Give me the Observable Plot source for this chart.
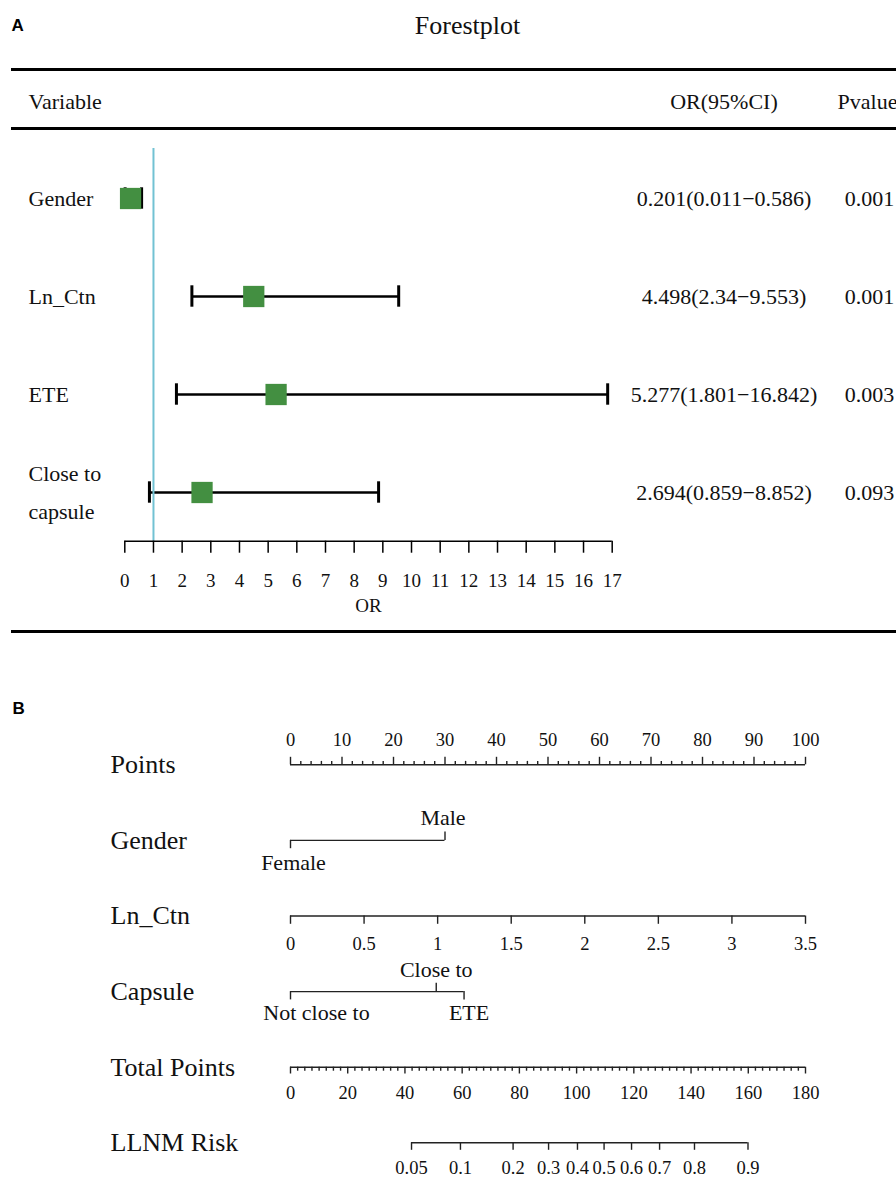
<!DOCTYPE html>
<html>
<head>
<meta charset="utf-8">
<script src="https://cdn.jsdelivr.net/npm/d3@7"></script>
<script src="https://cdn.jsdelivr.net/npm/@observablehq/plot@0.6"></script>
<style>
  html, body { margin: 0; padding: 0; background: #fff; }
  #chart { width: 896px; }
  #chart svg { display: block; }
</style>
</head>
<body>
<div id="chart"></div>
<script>
// ---------------- Panel A data (forest plot) ----------------
const variables = ["Gender", "Ln_Ctn", "ETE", "Close to capsule"];
const variableLabels = ["Gender", "Ln_Ctn", "ETE", "Close to\ncapsule"];
const oddsRatios = [0.201, 4.498, 5.277, 2.694];
const ciLower = [0.011, 2.34, 1.801, 0.859];
const ciUpper = [0.586, 9.553, 16.842, 8.852];
const pValues = ["0.001", "0.001", "0.003", "0.093"];
const orTicks = [0, 1, 2, 3, 4, 5, 6, 7, 8, 9, 10, 11, 12, 13, 14, 15, 16, 17];
const tableHeaders = ["Variable", "OR(95%CI)", "Pvalue"];
const referenceOR = 1;
const titleA = "Forestplot";

// ---------------- Panel B data (nomogram) ----------------
const nomoRows = ["Points", "Gender", "Ln_Ctn", "Capsule", "Total Points", "LLNM Risk"];
const pointsTicks = [0, 10, 20, 30, 40, 50, 60, 70, 80, 90, 100];
const genderLevels = ["Female", "Male"];
const genderPoints = [0, 30];
const lnCtnTicks = [0, 0.5, 1, 1.5, 2, 2.5, 3, 3.5];
const capsuleLevels = ["Not close to", "Close to", "ETE"];
const capsulePoints = [0, 28.3, 33.7];
const totalTicks = [0, 20, 40, 60, 80, 100, 120, 140, 160, 180];
const riskTicks = [0.05, 0.1, 0.2, 0.3, 0.4, 0.5, 0.6, 0.7, 0.8, 0.9];
const riskTotalPoints = [42.3, 59.4, 77.8, 90.2, 100.3, 109.6, 119.2, 129.0, 141.2, 159.9];

// ---------------- styles ----------------
const serif = "'Liberation Serif', 'Times New Roman', Times, serif";
const sans = "'Liberation Sans', Arial, Helvetica, sans-serif";
const ink = "#111";
const green = "#438f41";
const refBlue = "#72c2d3";

// ---------------- Panel A ----------------
const A = {width: 896, height: 650, left: 124.3, right: 284.3, firstRow: 198, rowStep: 98};
const LA = {title: -1.765, topRule: -1.316, header: -0.99, headerRule: -0.714, refTop: -0.51,
            axis: 3.497, tickLabel: 3.898, axisLabel: 4.153, bottomRule: 4.418};
const frameRightA = A.width - A.right;
const colDx = {tag: 11 - A.left, variable: 28 - A.left, ci: 723.5 - frameRightA, p: 869 - frameRightA, title: 467 - A.left};

const rowsA = variables.map((v, i) => ({
  variable: v, label: variableLabels[i], or: oddsRatios[i], lo: ciLower[i], hi: ciUpper[i],
  p: pValues[i], row: i, ci: `${oddsRatios[i]}(${ciLower[i]}\u2212${ciUpper[i]})`,
  multiline: variableLabels[i].includes("\n")
}));

const plotA = Plot.plot({
  width: A.width, height: A.height,
  marginLeft: A.left, marginRight: A.right, marginTop: 0, marginBottom: 0,
  x: {domain: [orTicks[0], orTicks[orTicks.length - 1]], axis: null},
  y: {domain: [-A.firstRow / A.rowStep, (A.height - A.firstRow) / A.rowStep], range: [0, A.height], axis: null},
  style: {fontFamily: serif, color: ink, background: "#fff", overflow: "visible"},
  marks: [
    // tag and title
    Plot.text(["A"], {text: d => d, y: LA.title, frameAnchor: "left", dx: colDx.tag, textAnchor: "start",
      fontFamily: sans, fontWeight: "bold", fontSize: 17, fill: "#000"}),
    Plot.text([titleA], {text: d => d, y: LA.title, frameAnchor: "left", dx: colDx.title, textAnchor: "middle", fontSize: 26}),
    // table rules
    Plot.ruleY([LA.topRule, LA.headerRule, LA.bottomRule], {y: d => d, insetLeft: 11 - A.left, insetRight: -A.right - 5,
      stroke: "#000", strokeWidth: 3}),
    // headers
    Plot.text([tableHeaders[0]], {text: d => d, y: LA.header, frameAnchor: "left", dx: colDx.variable, textAnchor: "start", fontSize: 22}),
    Plot.text([tableHeaders[1]], {text: d => d, y: LA.header, frameAnchor: "right", dx: colDx.ci, textAnchor: "middle", fontSize: 22}),
    Plot.text([tableHeaders[2]], {text: d => d, y: LA.header, frameAnchor: "right", dx: colDx.p - 2, textAnchor: "middle", fontSize: 22}),
    // row labels and values
    Plot.text(rowsA.filter(d => !d.multiline), {y: "row", text: "label", frameAnchor: "left", dx: colDx.variable,
      textAnchor: "start", fontSize: 22}),
    Plot.text(rowsA.filter(d => d.multiline), {y: "row", text: "label", frameAnchor: "left", dx: colDx.variable,
      textAnchor: "start", fontSize: 22, lineHeight: 1.73, dy: -4.5}),
    Plot.text(rowsA, {y: "row", text: "ci", frameAnchor: "right", dx: colDx.ci, textAnchor: "middle", fontSize: 22}),
    Plot.text(rowsA, {y: "row", text: "p", frameAnchor: "right", dx: colDx.p, textAnchor: "middle", fontSize: 22}),
    // whiskers and caps
    Plot.ruleY(rowsA, {y: "row", x1: "lo", x2: "hi", stroke: "#000", strokeWidth: 2.5}),
    Plot.ruleX(rowsA, {x: "lo", y1: "row", y2: "row", insetTop: -10.7, insetBottom: -10.7, stroke: "#000", strokeWidth: 3}),
    Plot.ruleX(rowsA, {x: "hi", y1: "row", y2: "row", insetTop: -10.7, insetBottom: -10.7, stroke: "#000", strokeWidth: 3}),
    // point estimates
    Plot.dot(rowsA, {x: "or", y: "row", symbol: "square", r: 12, fill: green}),
    // reference line
    Plot.ruleX([referenceOR], {x: d => d, y1: LA.refTop, y2: LA.axis, stroke: refBlue, strokeWidth: 2}),
    // OR axis
    Plot.ruleY([LA.axis], {y: d => d, x1: orTicks[0], x2: orTicks[orTicks.length - 1], stroke: "#000", strokeWidth: 1.5}),
    Plot.ruleX(orTicks, {x: d => d, y1: LA.axis, y2: LA.axis, insetBottom: -12, stroke: "#000", strokeWidth: 1.5}),
    Plot.text(orTicks, {x: d => d, y: LA.tickLabel, text: d => String(d), fontSize: 19}),
    Plot.text(["OR"], {text: d => d, x: (orTicks[0] + orTicks[orTicks.length - 1]) / 2, y: LA.axisLabel, fontSize: 19})
  ]
});

// ---------------- Panel B ----------------
const B = {width: 896, height: 528, left: 290, right: 91, firstRow: 114.3, rowStep: 75.6};
const LB = {tag: -0.745};
const pointsMax = pointsTicks[pointsTicks.length - 1];
const lnToPts = v => v / lnCtnTicks[lnCtnTicks.length - 1] * pointsMax;
const totToPts = t => t / totalTicks[totalTicks.length - 1] * pointsMax;
const pxPerPoint = (B.width - B.left - B.right) / pointsMax;

const rowIndex = Object.fromEntries(nomoRows.map((r, i) => [r, i]));

// axis lines
const nomoLines = [
  {row: rowIndex["Points"], x1: 0, x2: pointsMax},
  {row: rowIndex["Gender"], x1: d3.min(genderPoints), x2: d3.max(genderPoints)},
  {row: rowIndex["Ln_Ctn"], x1: lnToPts(lnCtnTicks[0]), x2: lnToPts(lnCtnTicks[lnCtnTicks.length - 1])},
  {row: rowIndex["Capsule"], x1: d3.min(capsulePoints), x2: d3.max(capsulePoints)},
  {row: rowIndex["Total Points"], x1: totToPts(totalTicks[0]), x2: totToPts(totalTicks[totalTicks.length - 1])},
  {row: rowIndex["LLNM Risk"], x1: totToPts(d3.min(riskTotalPoints)), x2: totToPts(d3.max(riskTotalPoints))}
];

// tick marks
const nomoTicks = [];
pointsTicks.forEach(v => nomoTicks.push({row: 0, x: v, dir: -1, len: 7.5}));
d3.range(0, pointsMax, 2).filter(v => v % 10 !== 0).forEach(v => nomoTicks.push({row: 0, x: v, dir: -1, len: 3.4}));
genderPoints.forEach((v, i) => nomoTicks.push({row: 1, x: v, dir: i % 2 ? -1 : 1, len: 8.3}));
lnCtnTicks.forEach(v => nomoTicks.push({row: 2, x: lnToPts(v), dir: 1, len: 8.3}));
capsulePoints.forEach((v, i) => nomoTicks.push({row: 3, x: v, dir: i % 2 ? -1 : 1, len: 8.3}));
totalTicks.forEach(v => nomoTicks.push({row: 4, x: totToPts(v), dir: 1, len: 6.8}));
d3.range(0, totalTicks[totalTicks.length - 1], 2.5).filter(v => v % 20 !== 0)
  .forEach(v => nomoTicks.push({row: 4, x: totToPts(v), dir: 1, len: 4}));
riskTotalPoints.forEach(v => nomoTicks.push({row: 5, x: totToPts(v), dir: 1, len: 7.5}));

// labels
const labelNudge = {"Female": 3, "Male": -2, "Not close to": 26, "ETE": 5};
const numLabels = [];
pointsTicks.forEach(v => numLabels.push({row: 0, x: v, off: -24.3, text: String(v)}));
lnCtnTicks.forEach(v => numLabels.push({row: 2, x: lnToPts(v), off: 28.3, text: String(v)}));
totalTicks.forEach(v => numLabels.push({row: 4, x: totToPts(v), off: 26.3, text: String(v)}));
riskTicks.forEach((v, i) => numLabels.push({row: 5, x: totToPts(riskTotalPoints[i]), off: 25.3, text: String(v)}));
const catLabels = [];
genderLevels.forEach((l, i) => catLabels.push({row: 1, x: genderPoints[i], off: i % 2 ? -22.6 : 22.4, text: l}));
capsuleLevels.forEach((l, i) => catLabels.push({row: 3, x: capsulePoints[i], off: i % 2 ? -21.7 : 21.3, text: l}));

const plotB = Plot.plot({
  width: B.width, height: B.height,
  marginLeft: B.left, marginRight: B.right, marginTop: 0, marginBottom: 0,
  x: {domain: [0, pointsMax], axis: null},
  y: {domain: [-B.firstRow / B.rowStep, (B.height - B.firstRow) / B.rowStep], range: [0, B.height], axis: null},
  style: {fontFamily: serif, color: ink, background: "#fff", overflow: "visible"},
  marks: [
    Plot.text(["B"], {text: d => d, y: LB.tag, frameAnchor: "left", dx: 12 - B.left, textAnchor: "start",
      fontFamily: sans, fontWeight: "bold", fontSize: 17, fill: "#000"}),
    Plot.text(nomoRows, {text: d => d, y: (d, i) => i, frameAnchor: "left", dx: 110 - B.left, textAnchor: "start", fontSize: 26}),
    Plot.ruleY(nomoLines, {y: "row", x1: "x1", x2: "x2", stroke: "#222", strokeWidth: 1.4}),
    Plot.ruleX(nomoTicks, {x: "x", y1: "row", y2: d => d.row + d.dir * d.len / B.rowStep, stroke: "#222", strokeWidth: 1.4}),
    Plot.text(numLabels, {x: "x", y: d => d.row + d.off / B.rowStep, text: "text", fontSize: 18.5}),
    Plot.text(catLabels, {x: d => d.x + (labelNudge[d.text] || 0) / pxPerPoint, y: d => d.row + d.off / B.rowStep,
      text: "text", fontSize: 22})
  ]
});

const chart = document.getElementById("chart");
chart.appendChild(plotA);
chart.appendChild(plotB);
</script>
</body>
</html>
